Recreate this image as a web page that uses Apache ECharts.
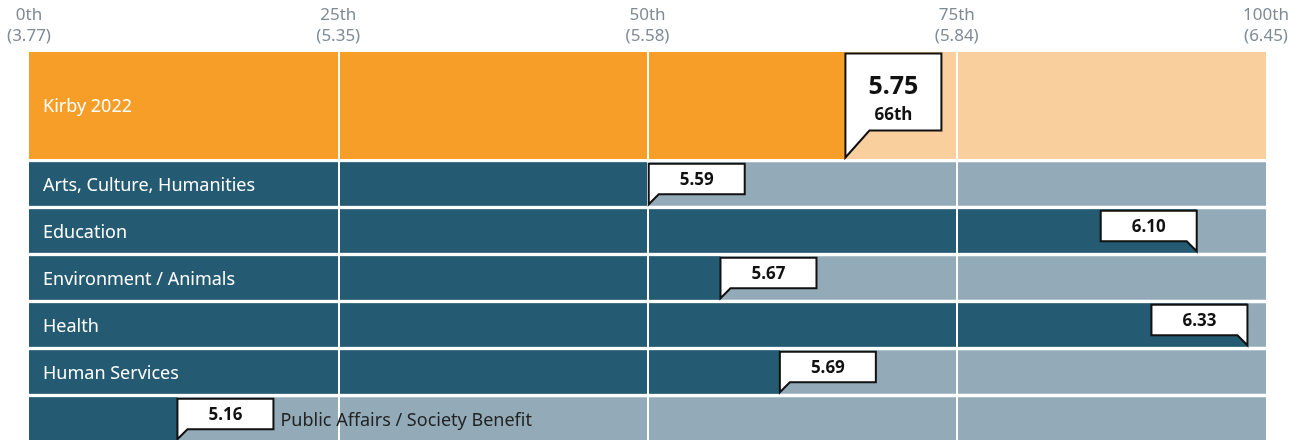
<!DOCTYPE html>
<html><head><meta charset="utf-8">
<script src="https://cdn.jsdelivr.net/npm/echarts@6/dist/echarts.min.js"></script>
<style>html,body{margin:0;padding:0;background:#fff}#c{width:1304px;height:440px}</style>
</head><body><div id="c"></div>
<script>
// ---- data ----
const tickPercentiles = [0, 25, 50, 75, 100];
const tickLabels = ['0th\n(3.77)', '25th\n(5.35)', '50th\n(5.58)', '75th\n(5.84)', '100th\n(6.45)'];
const mainCategory = ['Kirby 2022'];
const mainScore = [5.75];
const mainPercentile = [66];
const mainRank = ['66th'];
const categories = ['Arts, Culture, Humanities', 'Education', 'Environment / Animals', 'Health', 'Human Services', 'Public Affairs / Society Benefit'];
const scores = [5.59, 6.10, 5.67, 6.33, 5.69, 5.16];
const percentiles = [50.1, 94.4, 55.9, 98.5, 60.7, 12.0];

// ---- style ----
const FONT = '"Noto Sans", "Open Sans", sans-serif';
const LABEL_SIZE = 18;
const C = {
  orange: '#F79E28', orangeLight: '#F9CF9E',
  teal: '#245A72', tealLight: '#93ABB8',
  axis: '#7F8A95', ink: '#111111', dark: '#222222'
};
const measureCtx = document.createElement('canvas').getContext('2d');
function textWidth(t, size, weight) {
  measureCtx.font = (weight || 'normal') + ' ' + size + 'px ' + FONT;
  return measureCtx.measureText(t).width;
}

function makeRender(big, names, vals, ranks) {
  return function (params, api) {
    const pct = api.value(0), idx = api.value(1);
    const p = api.coord([pct, idx]);
    const cs = params.coordSys;
    const barH = big ? 107 : 43.5;
    const top = p[1] - barH / 2, bottom = p[1] + barH / 2;
    const tipX = p[0], tipY = bottom - 1.5;
    const boxW = 96;
    const boxTop = top + 1.5;
    const tailH = big ? 27 : 10, tailW = big ? 24 : 10;
    const boxBottom = tipY - tailH;
    const flip = tipX + boxW > cs.x + cs.width;
    const s = flip ? -1 : 1;
    const pts = [[tipX, boxTop], [tipX + s * boxW, boxTop], [tipX + s * boxW, boxBottom], [tipX + s * tailW, boxBottom], [tipX, tipY]];
    const boxCx = tipX + s * boxW / 2;
    const children = [{
      type: 'polygon', shape: { points: pts },
      style: { fill: '#fff', stroke: C.ink, lineWidth: 2, lineJoin: 'miter' }
    }];
    const v = vals[params.dataIndex].toFixed(2);
    if (big) {
      children.push({ type: 'text', style: { text: v, x: boxCx, y: boxTop + 33, align: 'center', verticalAlign: 'middle', fill: C.ink, fontSize: 25, fontWeight: 'bold', fontFamily: FONT } });
      children.push({ type: 'text', style: { text: ranks[params.dataIndex], x: boxCx, y: boxTop + 62, align: 'center', verticalAlign: 'middle', fill: C.ink, fontSize: 17, fontWeight: 'bold', fontFamily: FONT } });
    } else {
      children.push({ type: 'text', style: { text: v, x: boxCx, y: (boxTop + boxBottom) / 2 + 1.5, align: 'center', verticalAlign: 'middle', fill: C.ink, fontSize: 17, fontWeight: 'bold', fontFamily: FONT } });
    }
    // category label
    const name = names[params.dataIndex];
    const w = textWidth(name, LABEL_SIZE);
    const darkW = tipX - cs.x;
    const ly = p[1] + 1.5;
    if (14 + w + 12 < darkW) {
      children.push({ type: 'text', style: { text: name, x: cs.x + 14, y: ly, align: 'left', verticalAlign: 'middle', fill: '#fff', fontSize: LABEL_SIZE, fontFamily: FONT } });
    } else {
      const bx = flip ? tipX + 8 : tipX + boxW + 7;
      children.push({ type: 'text', style: { text: name, x: bx, y: ly, align: 'left', verticalAlign: 'middle', fill: C.dark, fontSize: LABEL_SIZE, fontFamily: FONT } });
    }
    return { type: 'group', children };
  };
}

const xBase = (gi, showLabels) => ({
  gridIndex: gi, type: 'value', min: 0, max: 100, interval: 25, position: 'top', z: 3,
  axisLine: { show: false }, axisTick: { show: false },
  axisLabel: {
    show: showLabels, color: C.axis, fontSize: 17, lineHeight: 21, margin: 5, fontFamily: FONT,
    formatter: v => tickLabels[tickPercentiles.indexOf(v)]
  },
  splitLine: { show: true, showMinLine: false, showMaxLine: false, lineStyle: { color: '#fff', width: 2 } }
});
const yBase = (gi, data) => ({
  gridIndex: gi, type: 'category', data, inverse: true,
  axisLine: { show: false }, axisTick: { show: false }, axisLabel: { show: false }, splitLine: { show: false }
});

const chart = echarts.init(document.getElementById('c'), null, { renderer: 'canvas' });
chart.setOption({
  animation: false,
  textStyle: { fontFamily: FONT },
  grid: [
    { left: 29, right: 38, top: 52, height: 107, outerBoundsMode: 'none', containLabel: false },
    { left: 29, right: 38, top: 160.5, height: 282, outerBoundsMode: 'none', containLabel: false }
  ],
  xAxis: [xBase(0, true), xBase(1, false)],
  yAxis: [yBase(0, mainCategory), yBase(1, categories)],
  series: [
    { type: 'bar', xAxisIndex: 0, yAxisIndex: 0, data: mainPercentile, barWidth: 107,
      itemStyle: { color: C.orange }, showBackground: true, backgroundStyle: { color: C.orangeLight }, z: 2 },
    { type: 'bar', xAxisIndex: 1, yAxisIndex: 1, data: percentiles, barWidth: 43.5,
      itemStyle: { color: C.teal }, showBackground: true, backgroundStyle: { color: C.tealLight }, z: 2 },
    { type: 'custom', xAxisIndex: 0, yAxisIndex: 0, z: 10, clip: false,
      data: mainPercentile.map((v, i) => [v, i]), encode: { x: 0, y: 1 },
      renderItem: makeRender(true, mainCategory, mainScore, mainRank) },
    { type: 'custom', xAxisIndex: 1, yAxisIndex: 1, z: 10, clip: false,
      data: percentiles.map((v, i) => [v, i]), encode: { x: 0, y: 1 },
      renderItem: makeRender(false, categories, scores, null) }
  ]
});
</script></body></html>
